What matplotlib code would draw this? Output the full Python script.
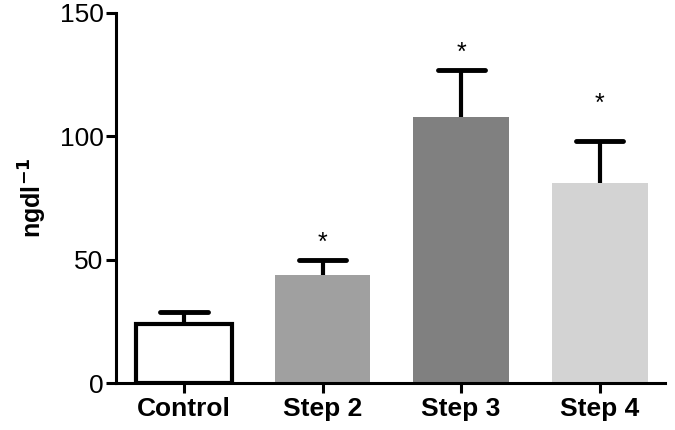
import matplotlib
matplotlib.use('Agg')
import matplotlib.pyplot as plt

plt.rcParams['font.family'] = ['Liberation Sans', 'DejaVu Sans']

groups = ['Control', 'Step 2', 'Step 3', 'Step 4']
means = [24, 44, 108, 81]
errs = [5, 6, 19, 17]
stars = ['', '*', '*', '*']
star_y = [0, 57, 134, 113]
fills = ['white', '#a0a0a0', '#808080', '#d3d3d3']
edges = ['black', '#a0a0a0', '#808080', '#d3d3d3']

fig = plt.figure(figsize=(6.75, 4.3), dpi=100)
ax = fig.add_axes([0.172, 0.109, 0.813, 0.861])

x = list(range(len(groups)))
ax.bar(x, means, width=0.69, color=fills, edgecolor=edges,
       linewidth=[3, 0, 0, 0], zorder=2)

# only the upper half of the error bar is drawn
tops = [m + e for m, e in zip(means, errs)]
ax.vlines(x, means, tops, color='black', lw=3, zorder=3)
ax.hlines(tops, [i - 0.17 for i in x], [i + 0.17 for i in x],
          color='black', lw=3.5, zorder=3, capstyle='round')

for i, s in enumerate(stars):
    if s:
        ax.text(i, star_y[i], s, ha='center', va='center', fontsize=18)

ax.set_xlim(-0.49, 3.47)
ax.set_ylim(0, 150)
ax.set_yticks([0, 50, 100, 150])
ax.set_xticks(x)
ax.set_xticklabels(groups, fontsize=19, fontweight='bold')
ax.tick_params(axis='y', labelsize=19, width=2.2, length=7, pad=2)
ax.tick_params(axis='x', width=2.2, length=7, pad=3)
ax.set_ylabel('ngdl$^{\\mathbf{-1}}$', fontsize=18, fontweight='bold', labelpad=8)

for side in ['top', 'right']:
    ax.spines[side].set_visible(False)
for side in ['left', 'bottom']:
    ax.spines[side].set_linewidth(2.2)

fig.savefig('out.png', dpi=100)
